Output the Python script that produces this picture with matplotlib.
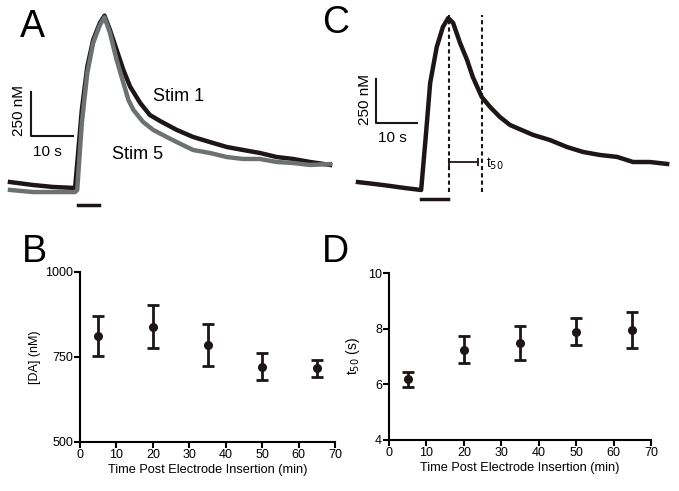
import matplotlib
matplotlib.use("Agg")
import matplotlib.pyplot as plt
import numpy as np

plt.rcParams['font.family'] = ['Liberation Sans', 'DejaVu Sans']

W, H = 679, 491

# ---- panel A: traces (time in s, concentration in nM) ----
stim1_t = [0, 5.5, 10.2, 15.5, 17.1, 18.4, 19.8, 21.4, 22.5, 23.8, 25.4, 27.0, 28.6,
           31.0, 33.3, 35.7, 39.7, 43.6, 47.6, 51.6, 55.5, 59.5, 63.5, 67.4, 71.4, 76.2]
stim1_c = [34, 17, 6, 0, 443, 689, 841, 938, 979, 898, 784, 670, 576,
           483, 415, 381, 330, 290, 261, 233, 216, 199, 176, 165, 148, 131]
stim5_t = [0, 5.5, 15.5, 16.0, 17.1, 18.4, 19.8, 21.4, 22.5, 23.8, 25.4, 27.0, 28.2,
           29.4, 31.7, 34.1, 37.3, 39.7, 43.6, 47.6, 51.6, 55.5, 59.5, 63.5, 67.4, 71.4, 76.2]
stim5_c = [-11, -23, -23, -11, 369, 653, 824, 926, 970, 881, 727, 597, 500,
           443, 375, 330, 290, 261, 216, 199, 176, 165, 165, 148, 142, 131, 136]

# ---- panel C: single trace ----
trace_t = [0, 4.1, 7.8, 11.5, 15.4, 16.6, 17.6, 19.2, 20.7, 22.0, 23.2, 24.9, 26.6,
           28.0, 30.2, 32.2, 34.6, 37.1, 38.8, 42.7, 46.8, 51.0, 54.9, 59.0, 63.2,
           67.1, 71.2, 75.4]
trace_c = [45, 34, 23, 11, 0, 324, 608, 812, 926, 977, 949, 835, 739,
           642, 528, 472, 415, 369, 352, 313, 284, 244, 216, 199, 188,
           159, 159, 148]
t_peak = 22.2
t_half = 30.2

# ---- panels B and D: summary data ----
insert_time = [5, 20, 35, 50, 65]
da_mean = [811, 839, 785, 722, 717]
da_lo = [752, 777, 725, 682, 692]
da_hi = [871, 903, 848, 762, 741]
t50_mean = [6.18, 7.24, 7.47, 7.89, 7.94]
t50_lo = [5.92, 6.78, 6.87, 7.41, 7.30]
t50_hi = [6.46, 7.72, 8.10, 8.40, 8.61]

black = '#1c1616'
gray = '#6d7172'

fig = plt.figure(figsize=(W / 100, H / 100), dpi=100)


def px_axes(x0, y0, x1, y1):
    return fig.add_axes([x0 / W, 1 - y1 / H, (x1 - x0) / W, (y1 - y0) / H])


# panel A
axA = px_axes(0, 0, 340, 220)
axA.set_xlim(-10 / 4.2, 330 / 4.2)
axA.set_ylim(-32 / 0.176, 188 / 0.176)
axA.axis('off')
axA.plot(stim1_t, stim1_c, color=black, lw=3.2, solid_joinstyle='round')
axA.plot(stim5_t, stim5_c, color=gray, lw=3.2, solid_joinstyle='round')
axA.plot([5, 5, 15], [545, 295, 295], color=black, lw=1.5)
axA.plot([16.2, 21.2], [-97, -97], color=black, lw=2.5)
axA.text(2.1, 443, '250 nM', rotation=90, fontsize=11, ha='center', va='center')
axA.text(8.8, 205, '10 s', fontsize=11, ha='center', va='center')
axA.text(34, 520, 'Stim 1', fontsize=13, ha='left', va='center')
axA.text(24.4, 190, 'Stim 5', fontsize=13, ha='left', va='center')
fig.text(20 / W, 1 - 37 / H, 'A', fontsize=27, ha='left', va='baseline')

# panel C
axC = px_axes(340, 0, 679, 220)
axC.set_xlim(-18 / 4.1, 321 / 4.1)
axC.set_ylim(-30 / 0.176, 190 / 0.176)
axC.axis('off')
axC.plot(trace_t, trace_c, color=black, lw=3.2, solid_joinstyle='round')
axC.plot([4.4, 4.4, 14.4], [631, 381, 381], color=black, lw=1.5)
axC.plot([15.4, 22.0], [-51, -51], color=black, lw=2.5)
for tx in (t_peak, t_half):
    axC.plot([tx, tx], [-11, 994], color=black, lw=1.5, ls=(0, (2, 1.5)))
axC.errorbar([(t_peak + 29.3) / 2], [159], xerr=[(29.3 - t_peak) / 2],
             fmt='none', ecolor=black, elinewidth=1.3, capsize=3, capthick=1.3)
axC.text(1.7, 517, '250 nM', rotation=90, fontsize=11, ha='center', va='center')
axC.text(8.5, 295, '10 s', fontsize=11, ha='center', va='center')
axC.text(31.2, 150, 't$_{50}$', fontsize=10, ha='left', va='center')
fig.text(322 / W, 1 - 33 / H, 'C', fontsize=27, ha='left', va='baseline')


def style_axes(ax):
    for side in ('top', 'right'):
        ax.spines[side].set_visible(False)
    for side in ('left', 'bottom'):
        ax.spines[side].set_linewidth(1.5)
    ax.tick_params(direction='out', length=4, width=1.5, labelsize=9, pad=1)
    ax.set_xlim(0, 70)
    ax.set_xticks(range(0, 71, 10))
    ax.set_xlabel('Time Post Electrode Insertion (min)', fontsize=9.2, labelpad=2)


# panel B
axB = px_axes(80, 272, 335, 442)
mean = np.array(da_mean)
axB.errorbar(insert_time, mean, yerr=[mean - np.array(da_lo), np.array(da_hi) - mean],
             fmt='o', color=black, ms=5.5, elinewidth=2, capsize=4, capthick=2)
style_axes(axB)
axB.set_ylim(500, 1000)
axB.set_yticks([500, 750, 1000])
axB.set_ylabel('[DA] (nM)', fontsize=9, labelpad=3)
fig.text(22 / W, 1 - 262 / H, 'B', fontsize=27, ha='left', va='baseline')

# panel D
axD = px_axes(389, 273, 651, 440)
mean = np.array(t50_mean)
axD.errorbar(insert_time, mean, yerr=[mean - np.array(t50_lo), np.array(t50_hi) - mean],
             fmt='o', color=black, ms=5.5, elinewidth=2, capsize=4, capthick=2)
style_axes(axD)
axD.set_ylim(4, 10)
axD.set_yticks([4, 6, 8, 10])
axD.set_ylabel('t$_{50}$ (s)', fontsize=10, labelpad=4)
fig.text(322 / W, 1 - 262 / H, 'D', fontsize=27, ha='left', va='baseline')

fig.savefig('out.png', dpi=100)
